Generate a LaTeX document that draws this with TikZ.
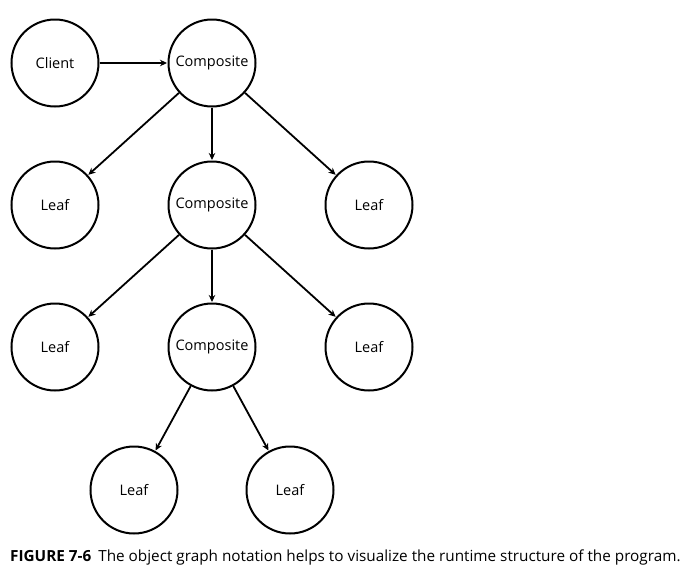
\documentclass[tikz,border=0pt]{standalone}
\usepackage{fontspec}
\setmainfont{Open Sans}
\usetikzlibrary{arrows.meta}
\begin{document}
\begin{tikzpicture}[x=1pt,y=-1pt,
  obj/.style={circle,draw,line width=2pt,minimum size=87pt,inner sep=0pt,font=\fontsize{14.5}{17}\selectfont},
  link/.style={line width=1.8pt,-{Stealth[length=7pt,width=6.5pt]},shorten >=0.5pt}]
\useasboundingbox (0,0) rectangle (688,571);
\node[obj] (client) at (55,63) {Client};
\node[obj] (c1) at (212,63) {Composite};
\node[obj] (l1) at (55,205) {Leaf};
\node[obj] (c2) at (212,205) {Composite};
\node[obj] (l2) at (369,205) {Leaf};
\node[obj] (l3) at (55,347) {Leaf};
\node[obj] (c3) at (212,347) {Composite};
\node[obj] (l4) at (369,347) {Leaf};
\node[obj] (l5) at (134,490) {Leaf};
\node[obj] (l6) at (290,490) {Leaf};
\draw[link] (client) -- (c1);
\draw[link] (c1) -- (l1);
\draw[link] (c1) -- (c2);
\draw[link] (c1) -- (l2);
\draw[link] (c2) -- (l3);
\draw[link] (c2) -- (c3);
\draw[link] (c2) -- (l4);
\draw[link] (c3) -- (l5);
\draw[link] (c3) -- (l6);
\node[anchor=west,inner sep=0pt,font=\fontsize{15.3}{18}\selectfont] (cap) at (10,557)
  {{\fontseries{b}\selectfont FIGURE 7-6}\hspace{7pt}The object graph notation helps to visualize the runtime structure of the program.};
\end{tikzpicture}
\end{document}
